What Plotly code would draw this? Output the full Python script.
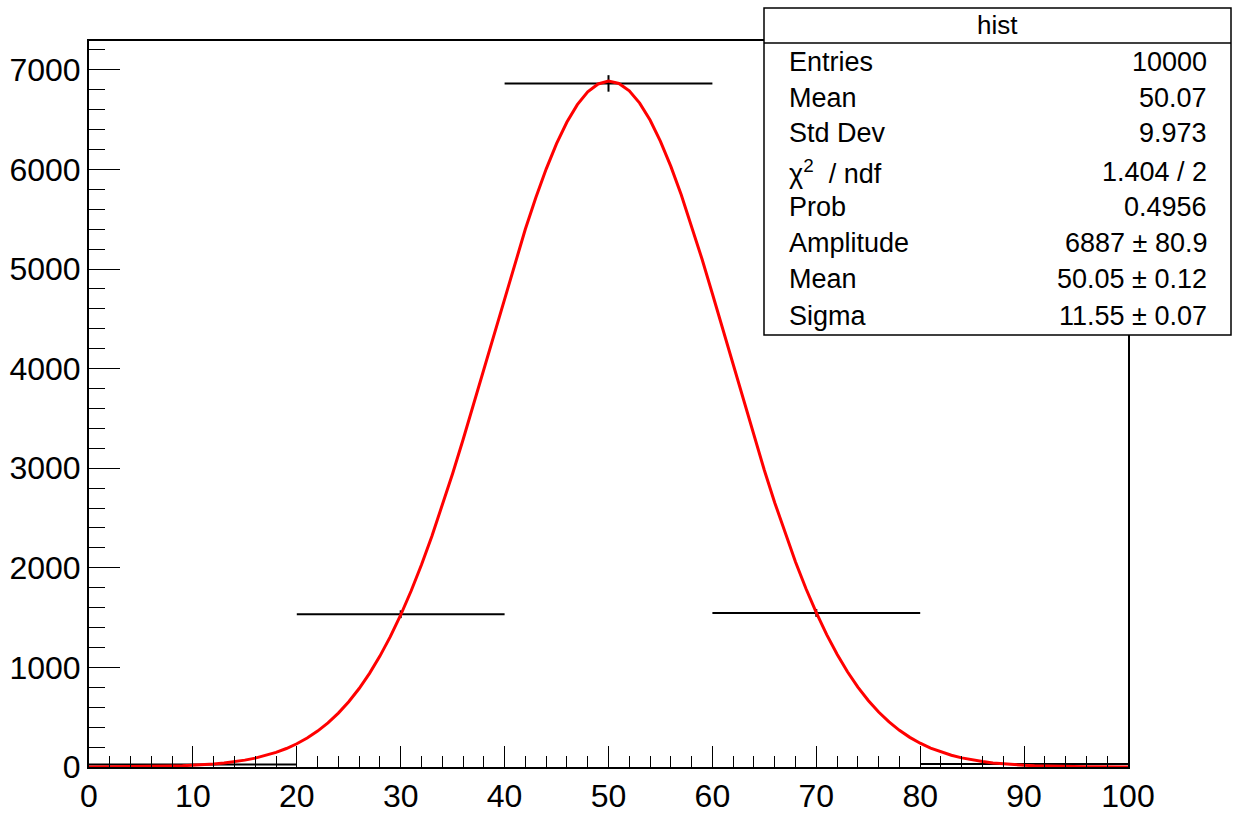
import numpy as np
import plotly.graph_objects as go

# Histogram "hist": 5 bins of width 20 on [0, 100]
bin_edges = [0, 20, 40, 60, 80, 100]
bin_counts = [26, 1534, 6864, 1547, 29]

# Gaussian fit result
fit_amplitude = 6887
fit_mean = 50.05
fit_sigma = 11.55

# Statistics box rows (label, value)
stat_rows = [
    ("Entries", "10000"),
    ("Mean", "50.07"),
    ("Std Dev", "9.973"),
    ("χ<sup>2</sup>  / ndf", "1.404 / 2"),
    ("Prob", "0.4956"),
    ("Amplitude", "6887 ± 80.9"),
    ("Mean", "50.05 ± 0.12"),
    ("Sigma", "11.55 ± 0.07"),
]
stat_title = "hist"

FONT = "Liberation Sans, Arial, Helvetica, sans-serif"

W, H = 1234, 815
ML, MR, MT, MB = 89, 106, 41, 48
PW, PH = W - ML - MR, H - MT - MB


def px(x):
    return (x - ML) / PW


def py(y):
    return (H - MB - y) / PH


edges = np.array(bin_edges, dtype=float)
centers = 0.5 * (edges[:-1] + edges[1:])
half_w = 0.5 * np.diff(edges)
counts = np.array(bin_counts, dtype=float)
errs = np.sqrt(counts)

# fit function sampled on 100 points, as a polyline
xf = np.linspace(0, 100, 101)
yf = fit_amplitude * np.exp(-0.5 * ((xf - fit_mean) / fit_sigma) ** 2)

fig = go.Figure()

fig.add_trace(go.Scatter(
    x=centers, y=counts, mode="markers",
    marker=dict(size=0.1, color="black"),
    error_x=dict(type="data", array=half_w, color="black", thickness=2, width=0),
    error_y=dict(type="data", array=errs, color="black", thickness=2, width=0),
    showlegend=False, hoverinfo="skip",
))

fig.add_trace(go.Scatter(
    x=xf, y=yf, mode="lines",
    line=dict(color="#ff0000", width=3),
    showlegend=False, hoverinfo="skip",
))

axis_common = dict(
    showgrid=False, zeroline=False, automargin=False,
    showline=True, linecolor="black", linewidth=2, mirror=True,
    ticks="inside", tickcolor="black", tickwidth=1,
    tickfont=dict(family=FONT, size=32, color="black"),
)

fig.update_xaxes(
    range=[0, 100], tickmode="linear", tick0=0, dtick=10, ticklen=21,
    minor=dict(ticks="inside", ticklen=11, dtick=2, tickcolor="black", tickwidth=1),
    **axis_common,
)
fig.update_yaxes(
    range=[0, 7290], tickmode="linear", tick0=0, dtick=1000, ticklen=31,
    minor=dict(ticks="inside", ticklen=16, dtick=200, tickcolor="black", tickwidth=1),
    **axis_common,
)

# statistics box
bx0, bx1, by0, by1 = 764, 1231, 8, 335
shapes = [
    dict(type="rect", xref="paper", yref="paper",
         x0=px(bx0), x1=px(bx1), y0=py(by1), y1=py(by0),
         fillcolor="white", line=dict(color="black", width=1.5), layer="above"),
    dict(type="line", xref="paper", yref="paper",
         x0=px(bx0), x1=px(bx1), y0=py(43), y1=py(43),
         line=dict(color="black", width=1.5), layer="above"),
]

annotations = [
    dict(text=stat_title, xref="paper", yref="paper",
         x=px((bx0 + bx1) / 2), y=py(25), xanchor="center", yanchor="middle",
         showarrow=False, font=dict(family=FONT, size=26, color="black")),
]
row_y = [62, 98, 133, 172, 207, 243, 279, 316]
for (lab, val), yy in zip(stat_rows, row_y):
    annotations.append(dict(
        text=lab, xref="paper", yref="paper", x=px(787), y=py(yy),
        xanchor="left", yanchor="middle", showarrow=False,
        font=dict(family=FONT, size=27, color="black")))
    annotations.append(dict(
        text=val, xref="paper", yref="paper", x=px(1209), y=py(yy),
        xanchor="right", yanchor="middle", showarrow=False,
        font=dict(family=FONT, size=27, color="black")))

fig.update_layout(
    width=W, height=H,
    margin=dict(l=ML, r=MR, t=MT, b=MB),
    paper_bgcolor="white", plot_bgcolor="white",
    shapes=shapes, annotations=annotations,
    showlegend=False,
)

fig.write_html("out.html")
